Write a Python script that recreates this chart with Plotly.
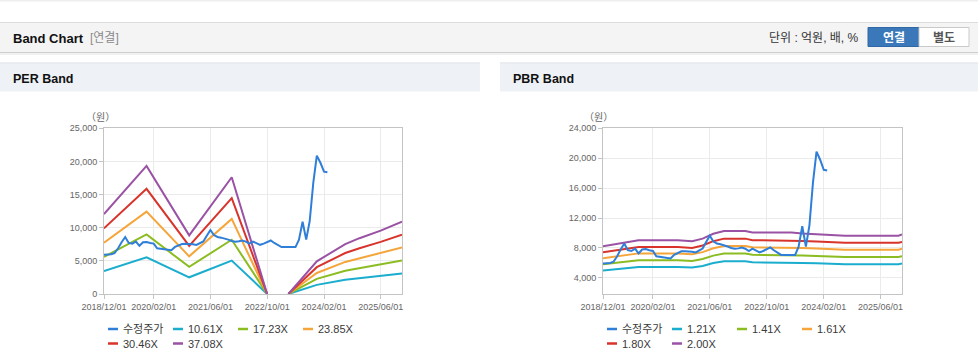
import plotly.graph_objects as go
import pandas as pd

W, H = 978, 361
FONT = "Liberation Sans, Noto Sans CJK KR, sans-serif"

# ---------------- data ----------------
price_start = "2018-12-01"
price = [5920, 5950, 6000, 6170, 6900, 7800, 8600, 7700, 7600, 7920,
         7270, 7800, 7850, 7700, 7600, 6900, 6800, 6780, 6700, 6600,
         7100, 7320, 7550, 7570, 7570, 7500, 7400, 7600, 7920, 8800,
         9650, 8900, 8600, 8500, 8400, 8200, 8000, 7900, 7950, 8050,
         7900, 7600, 7920, 7700, 7420, 7600, 7800, 8070, 7700, 7400,
         7080, 7080, 7080, 7080, 7080, 8180, 10900, 8200, 11000, 16800,
         20870, 19800, 18450, 18370]
price_dates = pd.date_range(price_start, periods=len(price), freq="MS")

per_dates = ["2018-12-01", "2019-12-01", "2020-12-01", "2021-12-01", "2022-10-01",
             "2023-01-01", "2023-04-01", "2023-12-01", "2024-08-01", "2024-12-01",
             "2025-06-01", "2025-12-01"]
per_names = ["10.61X", "17.23X", "23.85X", "30.46X", "37.08X"]
per_10 = [3450, 5530, 2520, 5040, 0, None, 0, 1380, 2150, 2410, 2740, 3100]
per_17 = [5600, 8980, 4100, 8180, 0, None, 0, 2290, 3500, 3910, 4450, 5060]
per_23 = [7750, 12430, 5680, 11330, 0, None, 0, 3170, 4840, 5410, 6150, 7020]
per_30 = [9900, 15870, 7250, 14470, 0, None, 0, 4050, 6180, 6910, 7860, 8950]
per_37 = [12050, 19320, 8850, 17610, 0, None, 0, 4930, 7530, 8420, 9570, 10900]

pbr_dates = ["2018-12-01", "2019-05-01", "2019-10-01", "2020-09-01", "2021-01-01",
             "2021-04-01", "2021-07-01", "2021-10-01", "2022-04-01", "2022-06-01",
             "2023-05-01", "2023-08-01", "2023-12-01", "2024-08-01", "2025-11-01",
             "2025-12-01"]
pbr_names = ["1.21X", "1.41X", "1.61X", "1.80X", "2.00X"]
pbr_121 = [4990, 5200, 5470, 5470, 5380, 5600, 5990, 6220, 6220, 6090, 6090, 6010, 5960, 5840, 5840, 5930]
pbr_141 = [5810, 6060, 6370, 6370, 6270, 6520, 6980, 7250, 7250, 7090, 7090, 7010, 6940, 6800, 6800, 6910]
pbr_161 = [6630, 6920, 7280, 7280, 7160, 7450, 7970, 8280, 8280, 8100, 8100, 8000, 7930, 7770, 7770, 7890]
pbr_180 = [7420, 7740, 8140, 8140, 8010, 8330, 8910, 9250, 9250, 9050, 9050, 8950, 8870, 8690, 8690, 8820]
pbr_200 = [8240, 8600, 9040, 9040, 8900, 9250, 9900, 10280, 10280, 10060, 10060, 9940, 9850, 9650, 9650, 9800]

tick_dates = ["2018-12-01", "2020-02-01", "2021-06-01", "2022-10-01", "2024-02-01", "2025-06-01"]
x_range = ["2018-12-01", "2025-12-01"]
per_yticks = [0, 5000, 10000, 15000, 20000, 25000]
pbr_yticks = [4000, 8000, 12000, 16000, 20000, 24000]
price_name = "수정주가"

COLORS = ["#2f7ed8", "#1aadce", "#8bbc21", "#f5a53a", "#d8342c", "#9a52a4"]

# ---------------- figure ----------------
fig = go.Figure()
per_series = [per_10, per_17, per_23, per_30, per_37]
pbr_series = [pbr_121, pbr_141, pbr_161, pbr_180, pbr_200]

for i, (nm, ys) in enumerate(zip(per_names, per_series)):
    fig.add_trace(go.Scatter(x=per_dates, y=ys, name=nm, mode="lines",
                             line=dict(color=COLORS[i + 1], width=2),
                             xaxis="x", yaxis="y", showlegend=False))
fig.add_trace(go.Scatter(x=price_dates, y=price, name=price_name, mode="lines",
                         line=dict(color=COLORS[0], width=2),
                         xaxis="x", yaxis="y", showlegend=False))
for i, (nm, ys) in enumerate(zip(pbr_names, pbr_series)):
    fig.add_trace(go.Scatter(x=pbr_dates, y=ys, name=nm, mode="lines",
                             line=dict(color=COLORS[i + 1], width=2),
                             xaxis="x2", yaxis="y2", showlegend=False))
fig.add_trace(go.Scatter(x=price_dates, y=price, name=price_name, mode="lines",
                         line=dict(color=COLORS[0], width=2),
                         xaxis="x2", yaxis="y2", showlegend=False))


def px(x):
    return x / W


def py(y):
    return 1 - y / H


axis_common = dict(showline=True, linecolor="#c4c4c4", linewidth=1, mirror=True,
                   showgrid=True, gridcolor="#ebebeb", gridwidth=1,
                   ticks="outside", ticklen=4, tickcolor="#c4c4c4", automargin=False,
                   tickfont=dict(size=9, color="#666666", family=FONT), zeroline=False)

ydom = [py(294), py(128.3)]
fig.update_layout(
    xaxis=dict(domain=[px(104), px(402)], range=x_range, type="date",
               tickvals=tick_dates, tickformat="%Y/%m/%d", anchor="y", **axis_common),
    yaxis=dict(domain=ydom, range=[0, 25000], tickvals=per_yticks, tickformat=",d",
               anchor="x", **axis_common),
    xaxis2=dict(domain=[px(603), px(902)], range=x_range, type="date",
                tickvals=tick_dates, tickformat="%Y/%m/%d", anchor="y2", **axis_common),
    yaxis2=dict(domain=ydom, range=[1850, 24000], tickvals=pbr_yticks, tickformat=",d",
                anchor="x2", **axis_common),
)

shapes = []
annotations = []


def rect(x0, y0, x1, y1, fill, line=None, lw=1):
    shapes.append(dict(type="rect", xref="paper", yref="paper", layer="below",
                       x0=px(x0), x1=px(x1), y0=py(y1), y1=py(y0), fillcolor=fill,
                       line=dict(color=line or fill, width=lw if line else 0)))


def hline(x0, x1, y, color, w=1, layer="below"):
    shapes.append(dict(type="line", xref="paper", yref="paper", layer=layer,
                       x0=px(x0), x1=px(x1), y0=py(y), y1=py(y), line=dict(color=color, width=w)))


def text(x, y, t, size=12, color="#333333", anchor="left", family=FONT):
    annotations.append(dict(x=px(x), y=py(y), xref="paper", yref="paper", text=t,
                            showarrow=False, xanchor=anchor, yanchor="middle",
                            font=dict(size=size, color=color, family=family)))


# page chrome
hline(0, W, 0.8, "#eeeeee", 1.5)
rect(0, 22, W, 52, "#f4f4f4")
hline(0, W, 22.5, "#dddddd", 1.2)
hline(0, W, 52.5, "#cfcfcf", 1.2)
hline(0, W, 54, "#ececec", 1.5)
rect(0, 62.5, 480, 91.5, "#eef2f6")
hline(0, 480, 63, "#e2e5e9", 1)
rect(500, 62.5, W, 91.5, "#eef2f6")
hline(500, W, 63, "#e2e5e9", 1)
rect(868, 27.5, 919, 46.5, "#3a78ba", "#2f68a5", 1)
rect(919, 27.5, 969, 46.5, "#ffffff", "#c9c9c9", 1)

text(11, 38.5, "<b>Band Chart</b>", 13, "#111111")
text(87.5, 38.5, "[연결]", 12, "#8a8a8a")
text(861, 38.5, "단위 : 억원, 배, %", 12, "#333333", anchor="right")
text(893.5, 37.5, "<b>연결</b>", 12, "#ffffff", anchor="center")
text(944, 37.5, "<b>별도</b>", 12, "#555555", anchor="center")
text(11, 78.5, "<b>PER Band</b>", 12.5, "#111111")
text(510.5, 78.5, "<b>PBR Band</b>", 12.5, "#111111")

# axis unit labels
text(100, 117, "（원）", 10, "#666666", anchor="center")
text(598.5, 117, "（원）", 10, "#666666", anchor="center")


# custom legends
def legend(x0, names, colors):
    cols = [x0 + 65 * k for k in range(4)]
    for idx, (nm, c) in enumerate(zip(names, colors)):
        r, k = divmod(idx, 4)
        yy = 329 + 14.5 * r
        xx = cols[k]
        hline(xx, xx + 10, yy, c, 2.5, layer="above")
        text(xx + 12.5, yy, nm, 11, "#3a3a3a")


legend(108, [price_name] + per_names, COLORS)
legend(607, [price_name] + pbr_names, COLORS)

fig.update_layout(width=W, height=H,
                  margin=dict(l=0, r=0, t=0, b=0, pad=0, autoexpand=False),
                  paper_bgcolor="#ffffff", plot_bgcolor="#ffffff",
                  shapes=shapes, annotations=annotations, showlegend=False,
                  font=dict(family=FONT))

fig.write_html("out.html", config={"displayModeBar": False},
               post_script="document.body.style.margin='0';document.body.style.overflow='hidden';")
